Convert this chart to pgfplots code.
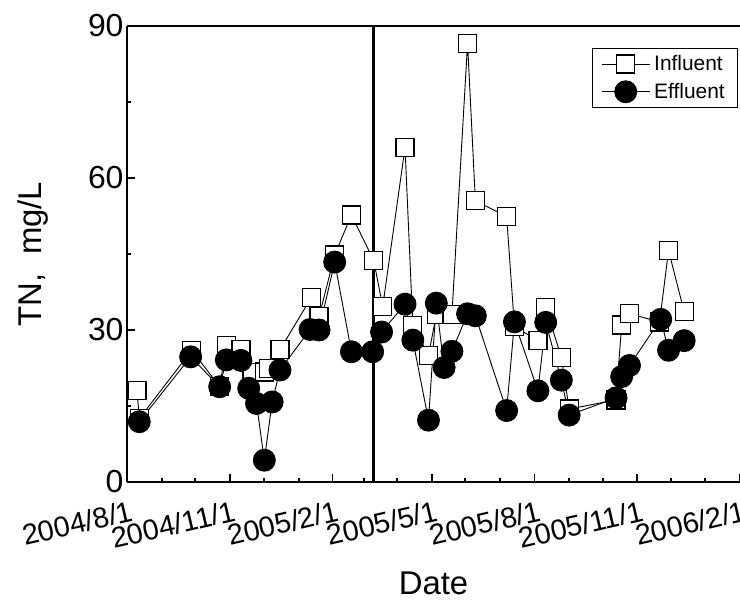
\documentclass[border=0pt]{standalone}
\usepackage{fontspec}
\setmainfont{Liberation Sans}
\usepackage{pgfplots}
\pgfplotsset{compat=1.18}
\usetikzlibrary{calc}

\begin{document}
\begin{tikzpicture}
\begin{axis}[
  name=ax,
  scale only axis,
  width=613bp, height=456bp,
  xmin=0, xmax=549, ymin=0, ymax=90,
  axis x line=box, axis y line=left,
  every outer x axis line/.append style={-},
  every outer y axis line/.append style={-},
  every inner x axis line/.append style={-},
  every inner y axis line/.append style={-},
  axis line style={line width=1.8bp, black},
  tick style={line width=1.8bp, black},
  tick align=inside,
  major tick length=8bp, minor tick length=4bp,
  xtick={0,92,184,273,365,457,549},
  xticklabels={2004/8/1,2004/11/1,2005/2/1,2005/5/1,2005/8/1,2005/11/1,2006/2/1},
  minor xtick={31,61,123,154,212,242,303,334,396,426,487,518},
  xtick pos=bottom,
  ytick={0,30,60,90}, minor ytick={15,45,75},
  ytick pos=left,
  /pgf/number format/assume math mode=true,
  xticklabel style={font=\fontsize{29}{32}\selectfont, rotate=13, anchor=north east,
    inner sep=0bp, xshift=-1bp, yshift=-18bp},
  yticklabel style={font=\fontsize{32}{36}\selectfont},
  xlabel={Date}, ylabel={TN,\ \ mg/L},
  label style={font=\fontsize{33}{38}\selectfont},
  xlabel style={at={(axis description cs:0.5,-0.2215)}, anchor=center},
  ylabel style={at={(axis description cs:-0.153,0.5)}, anchor=center},
  legend style={at={(axis description cs:0.997,0.952)}, anchor=north east,
    font=\fontsize{21}{24}\selectfont, draw=black, line width=0.8bp,
    inner xsep=9bp, inner ysep=3.5bp, row sep=3bp,
    nodes={inner sep=4bp}},
  legend cell align=left,
  legend image code/.code={\draw[mark repeat=2,mark phase=2,#1] plot coordinates {(0bp,0bp)(24bp,0bp)(48bp,0bp)};},
]
% dividing line
\addplot[black, line width=2.7bp, forget plot] coordinates {(221,0) (221,90)};

% Influent
\addplot[black, line width=0.9bp, mark=square*, mark size=9bp,
  mark options={fill=white, line width=1.3bp, solid}] coordinates {
(9,18.0) (11,12.5) (58,26.0) (83,18.8) (89,26.9) (102,26.2) (112,21.6)
(123,21.7) (127,22.4) (137,26.1) (165,36.4) (172,32.6) (186,44.8)
(201,52.7) (221,43.7) (229,34.6) (249,66.0) (256,30.9) (270,25.0)
(277,33.0) (291,33.0) (305,86.6) (312,55.5) (340,52.4) (347,30.7)
(368,27.9) (375,34.5) (389,24.6) (396,14.4) (438,16.2) (443,31.0)
(450,33.2) (477,31.6) (485,45.7) (499,33.6)
};
\addlegendentry{Influent}

% Effluent
\addplot[black, line width=0.9bp, mark=*, mark size=11bp,
  mark options={fill=black, solid}] coordinates {
(11,11.9) (57,24.7) (83,18.8) (89,24.1) (102,24.0) (109,18.5)
(116,15.5) (123,4.3) (130,15.8) (137,22.1) (164,30.1) (172,30.0)
(186,43.4) (201,25.7) (220,25.7) (228,29.6) (249,35.1) (256,28.0)
(270,12.2) (277,35.3) (284,22.6) (291,25.8) (305,33.2) (312,32.8)
(340,14.1) (347,31.6) (368,18.0) (375,31.5) (389,20.1) (396,13.2)
(438,16.6) (443,20.8) (450,23.0) (478,32.1) (485,26.0) (499,27.9)
};
\addlegendentry{Effluent}
\end{axis}
\pgfresetboundingbox
\path ($(ax.south west)+(-127bp,-124bp)$) rectangle ($(ax.north east)+(0bp,26bp)$);
\end{tikzpicture}
\end{document}
